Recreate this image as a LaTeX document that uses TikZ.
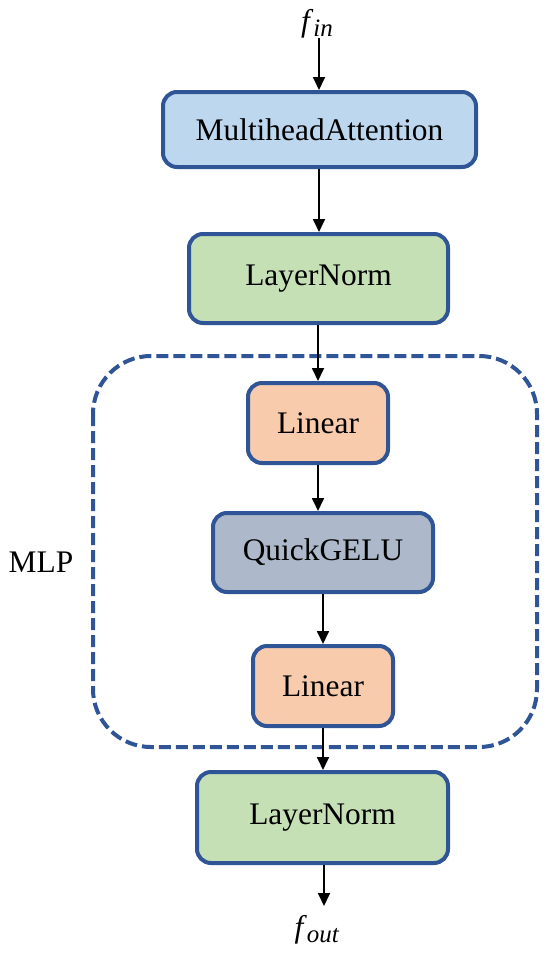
\documentclass[tikz,border=0pt]{standalone}
\usepackage{fontspec}
\setmainfont{Liberation Serif}
\usetikzlibrary{arrows.meta}
\definecolor{bord}{HTML}{2F5597}
\definecolor{fillmha}{HTML}{BDD7EE}
\definecolor{fillln}{HTML}{C5E0B4}
\definecolor{filllin}{HTML}{F8CBAD}
\definecolor{fillqg}{HTML}{ADB9CA}
\newcommand{\bigtxt}{\fontsize{31.4}{36}\selectfont}
\begin{document}
\begin{tikzpicture}[x=1pt,y=-1pt,
  blk/.style={draw=bord, line width=4pt, rounded corners=14pt, inner sep=0pt, font=\bigtxt},
  lbl/.style={inner sep=0pt, font=\bigtxt},
  arr/.style={-{Triangle[length=13pt,width=12pt]}, line width=1.7pt, black},
  mlpbox/.style={draw=bord, line width=4pt, dash pattern=on 12pt off 5pt, rounded corners=58pt}
]
\useasboundingbox (0,0) rectangle (550,956);

\node[lbl] (fin) at (317,24) {\textit{f}\raisebox{-0.15em}{\fontsize{25}{27}\selectfont\textit{in}}};
\node[blk, fill=fillmha, minimum width=313pt, minimum height=75pt] (mha) at (319.5,129.5) {MultiheadAttention};
\node[blk, fill=fillln, minimum width=259pt, minimum height=89pt] (ln1) at (318.5,278.5) {LayerNorm};
\node[blk, fill=filllin, minimum width=140pt, minimum height=80pt] (lin1) at (318,423) {Linear};
\node[blk, fill=fillqg, minimum width=220pt, minimum height=79pt] (qg) at (323,552.5) {QuickGELU};
\node[blk, fill=filllin, minimum width=140pt, minimum height=80pt] (lin2) at (323,686) {Linear};
\node[blk, fill=fillln, minimum width=251pt, minimum height=91pt] (ln2) at (322.5,817.5) {LayerNorm};
\node[lbl] (fout) at (317,930) {\textit{f}\raisebox{-0.15em}{\fontsize{25}{27}\selectfont\textit{out}}};
\node[lbl] (mlp) at (41,562) {MLP};

\coordinate (dtl) at (93,356);
\coordinate (dbr) at (537,747);
\draw[mlpbox] (dtl) rectangle (dbr);

\coordinate (a0) at (319,38);
\draw[arr] (a0) -- (a0 |- mha.north);
\draw[arr] (mha.south -| 319,0) -- (ln1.north -| 319,0);
\draw[arr] (ln1.south -| lin1.north) -- (lin1.north);
\draw[arr] (lin1.south) -- (lin1.south |- qg.north);
\draw[arr] (qg.south -| lin2.north) -- (lin2.north);
\draw[arr] (lin2.south) -- (lin2.south |- ln2.north);
\coordinate (a1) at (324,906);
\draw[arr] (ln2.south -| a1) -- (a1);
\end{tikzpicture}
\end{document}
